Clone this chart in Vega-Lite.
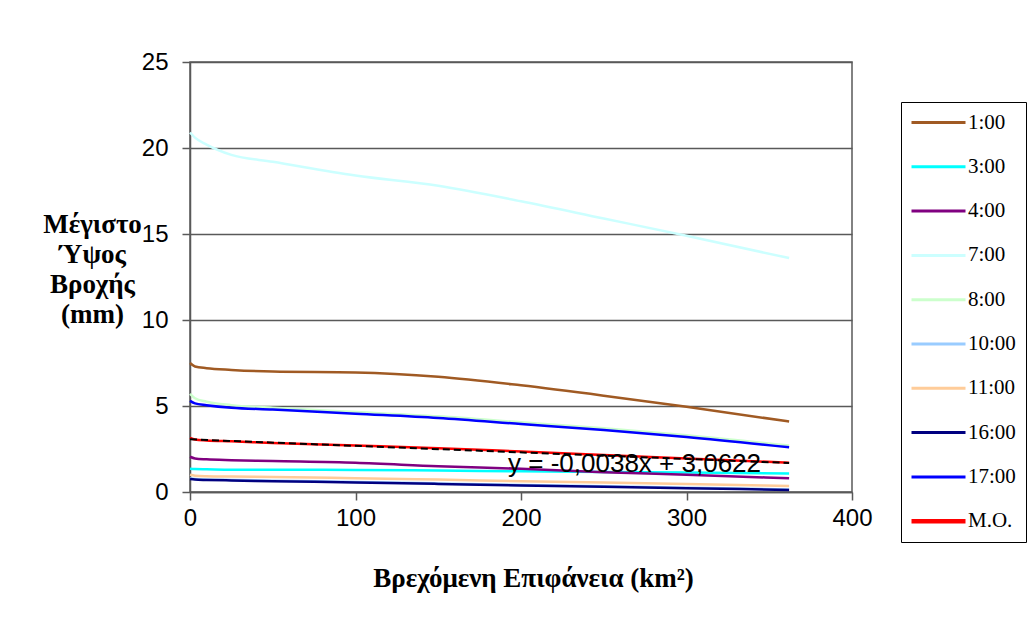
{
  "$schema": "https://vega.github.io/schema/vega-lite/v6.json",
  "width": 662,
  "height": 430,
  "autosize": {"type": "none"},
  "padding": {"left": 190, "top": 62, "right": 178, "bottom": 140},
  "background": "white",
  "config": {
    "view": {"stroke": "#595959", "strokeWidth": 1.5},
    "axis": {"labelFont": "Liberation Sans", "labelFontSize": 24, "labelColor": "black", "titleFont": "Liberation Serif", "titleFontWeight": "bold", "titleFontSize": 27, "titleColor": "black", "domainColor": "#595959", "domainWidth": 1.5, "tickColor": "#595959", "tickWidth": 1.5, "tickSize": 8, "gridColor": "#595959", "gridWidth": 1.5, "labelFlush": false}
  },
  "datasets": {
    "series": [
      {"x": 0, "y": 7.5, "s": "1:00"}, {"x": 3, "y": 7.3, "s": "1:00"}, {"x": 10, "y": 7.2, "s": "1:00"}, {"x": 25, "y": 7.1, "s": "1:00"}, {"x": 50, "y": 7.0, "s": "1:00"}, {"x": 100, "y": 6.95, "s": "1:00"}, {"x": 150, "y": 6.7, "s": "1:00"}, {"x": 200, "y": 6.2, "s": "1:00"}, {"x": 250, "y": 5.6, "s": "1:00"}, {"x": 300, "y": 4.95, "s": "1:00"}, {"x": 362, "y": 4.1, "s": "1:00"},
      {"x": 0, "y": 1.35, "s": "3:00"}, {"x": 3, "y": 1.33, "s": "3:00"}, {"x": 10, "y": 1.32, "s": "3:00"}, {"x": 25, "y": 1.3, "s": "3:00"}, {"x": 50, "y": 1.3, "s": "3:00"}, {"x": 100, "y": 1.28, "s": "3:00"}, {"x": 150, "y": 1.25, "s": "3:00"}, {"x": 200, "y": 1.2, "s": "3:00"}, {"x": 250, "y": 1.17, "s": "3:00"}, {"x": 300, "y": 1.13, "s": "3:00"}, {"x": 362, "y": 1.08, "s": "3:00"},
      {"x": 0, "y": 2.05, "s": "4:00"}, {"x": 3, "y": 1.95, "s": "4:00"}, {"x": 10, "y": 1.9, "s": "4:00"}, {"x": 25, "y": 1.85, "s": "4:00"}, {"x": 50, "y": 1.8, "s": "4:00"}, {"x": 100, "y": 1.7, "s": "4:00"}, {"x": 150, "y": 1.5, "s": "4:00"}, {"x": 200, "y": 1.35, "s": "4:00"}, {"x": 250, "y": 1.15, "s": "4:00"}, {"x": 300, "y": 1.0, "s": "4:00"}, {"x": 362, "y": 0.8, "s": "4:00"},
      {"x": 0, "y": 20.9, "s": "7:00"}, {"x": 3, "y": 20.6, "s": "7:00"}, {"x": 10, "y": 20.2, "s": "7:00"}, {"x": 25, "y": 19.6, "s": "7:00"}, {"x": 50, "y": 19.2, "s": "7:00"}, {"x": 100, "y": 18.4, "s": "7:00"}, {"x": 150, "y": 17.8, "s": "7:00"}, {"x": 200, "y": 16.9, "s": "7:00"}, {"x": 250, "y": 15.9, "s": "7:00"}, {"x": 300, "y": 14.9, "s": "7:00"}, {"x": 362, "y": 13.6, "s": "7:00"},
      {"x": 0, "y": 5.7, "s": "8:00"}, {"x": 3, "y": 5.45, "s": "8:00"}, {"x": 10, "y": 5.25, "s": "8:00"}, {"x": 25, "y": 5.05, "s": "8:00"}, {"x": 50, "y": 4.9, "s": "8:00"}, {"x": 100, "y": 4.65, "s": "8:00"}, {"x": 150, "y": 4.4, "s": "8:00"}, {"x": 200, "y": 4.05, "s": "8:00"}, {"x": 250, "y": 3.7, "s": "8:00"}, {"x": 300, "y": 3.3, "s": "8:00"}, {"x": 362, "y": 2.7, "s": "8:00"},
      {"x": 0, "y": 0.8, "s": "10:00"}, {"x": 3, "y": 0.76, "s": "10:00"}, {"x": 10, "y": 0.73, "s": "10:00"}, {"x": 25, "y": 0.7, "s": "10:00"}, {"x": 50, "y": 0.66, "s": "10:00"}, {"x": 100, "y": 0.58, "s": "10:00"}, {"x": 150, "y": 0.5, "s": "10:00"}, {"x": 200, "y": 0.41, "s": "10:00"}, {"x": 250, "y": 0.33, "s": "10:00"}, {"x": 300, "y": 0.25, "s": "10:00"}, {"x": 362, "y": 0.15, "s": "10:00"},
      {"x": 0, "y": 1.0, "s": "11:00"}, {"x": 3, "y": 0.95, "s": "11:00"}, {"x": 10, "y": 0.92, "s": "11:00"}, {"x": 25, "y": 0.9, "s": "11:00"}, {"x": 50, "y": 0.87, "s": "11:00"}, {"x": 100, "y": 0.8, "s": "11:00"}, {"x": 150, "y": 0.72, "s": "11:00"}, {"x": 200, "y": 0.63, "s": "11:00"}, {"x": 250, "y": 0.55, "s": "11:00"}, {"x": 300, "y": 0.47, "s": "11:00"}, {"x": 362, "y": 0.35, "s": "11:00"},
      {"x": 0, "y": 0.75, "s": "16:00"}, {"x": 3, "y": 0.72, "s": "16:00"}, {"x": 10, "y": 0.7, "s": "16:00"}, {"x": 25, "y": 0.67, "s": "16:00"}, {"x": 50, "y": 0.63, "s": "16:00"}, {"x": 100, "y": 0.55, "s": "16:00"}, {"x": 150, "y": 0.47, "s": "16:00"}, {"x": 200, "y": 0.38, "s": "16:00"}, {"x": 250, "y": 0.3, "s": "16:00"}, {"x": 300, "y": 0.22, "s": "16:00"}, {"x": 362, "y": 0.12, "s": "16:00"},
      {"x": 0, "y": 5.3, "s": "17:00"}, {"x": 3, "y": 5.15, "s": "17:00"}, {"x": 10, "y": 5.05, "s": "17:00"}, {"x": 25, "y": 4.9, "s": "17:00"}, {"x": 50, "y": 4.8, "s": "17:00"}, {"x": 100, "y": 4.55, "s": "17:00"}, {"x": 150, "y": 4.3, "s": "17:00"}, {"x": 200, "y": 3.95, "s": "17:00"}, {"x": 250, "y": 3.6, "s": "17:00"}, {"x": 300, "y": 3.2, "s": "17:00"}, {"x": 362, "y": 2.6, "s": "17:00"},
      {"x": 0, "y": 3.15, "s": "M.O."}, {"x": 3, "y": 3.05, "s": "M.O."}, {"x": 10, "y": 3.0, "s": "M.O."}, {"x": 25, "y": 2.95, "s": "M.O."}, {"x": 50, "y": 2.85, "s": "M.O."}, {"x": 100, "y": 2.7, "s": "M.O."}, {"x": 150, "y": 2.55, "s": "M.O."}, {"x": 200, "y": 2.35, "s": "M.O."}, {"x": 250, "y": 2.15, "s": "M.O."}, {"x": 300, "y": 1.95, "s": "M.O."}, {"x": 362, "y": 1.7, "s": "M.O."}
    ],
    "trend": [{"x": 0, "y": 3.0622}, {"x": 362, "y": 1.6866}],
    "label": [{"x": 268.6, "y": 1.16, "t": "y = -0,0038x + 3,0622"}]
  },
  "layer": [
    {
      "data": {"name": "series"},
      "mark": {"type": "line", "interpolate": "monotone", "strokeWidth": 2.5},
      "encoding": {
        "x": {"field": "x", "type": "quantitative", "scale": {"domain": [0, 400], "nice": false},
          "axis": {"values": [0, 100, 200, 300, 400], "grid": false, "labelPadding": 6, "title": "Βρεχόμενη Επιφάνεια (km²)", "titleX": 343, "titleY": 94, "titleBaseline": "alphabetic", "titleAnchor": null}},
        "y": {"field": "y", "type": "quantitative", "scale": {"domain": [0, 25], "nice": false},
          "axis": {"values": [0, 5, 10, 15, 20, 25], "grid": true, "labelPadding": 14,
            "title": ["Μέγιστο", "Ύψος", "Βροχής", "(mm)"], "titleAngle": 0, "titleAlign": "center", "titleBaseline": "top", "titleX": -98, "titleY": 149, "titleLineHeight": 30}},
        "color": {"field": "s", "type": "nominal",
          "scale": {"domain": ["1:00", "3:00", "4:00", "7:00", "8:00", "10:00", "11:00", "16:00", "17:00", "M.O."],
            "range": ["#A05A23", "#00FFFF", "#800080", "#CCFFFF", "#CCFFCC", "#99CCFF", "#FFCC99", "#000080", "#0000FF", "#FF0000"]},
          "legend": {"title": null, "orient": "none", "legendX": 711, "legendY": 40, "strokeColor": "black", "padding": 10, "rowPadding": 22.3, "labelFont": "Liberation Serif", "labelFontSize": 21, "labelColor": "black", "labelOffset": 36, "symbolType": "M-1,0H4.4", "symbolSize": 400, "symbolStrokeWidth": 3,
            "encode": {"symbols": {"update": {"strokeWidth": {"signal": "datum.value === 'M.O.' ? 4.5 : 3"}}}}}},
        "strokeWidth": {"condition": {"test": "datum.s === 'M.O.'", "value": 3.5}, "value": 2.5}
      }
    },
    {
      "data": {"name": "trend"},
      "mark": {"type": "line", "color": "black", "strokeWidth": 2, "strokeDash": [7, 4]},
      "encoding": {"x": {"field": "x", "type": "quantitative", "scale": {"domain": [0, 400], "nice": false}}, "y": {"field": "y", "type": "quantitative", "scale": {"domain": [0, 25], "nice": false}}}
    },
    {
      "data": {"name": "label"},
      "mark": {"type": "text", "font": "Liberation Sans", "fontSize": 26, "align": "center", "baseline": "alphabetic", "color": "black"},
      "encoding": {"x": {"field": "x", "type": "quantitative", "scale": {"domain": [0, 400], "nice": false}}, "y": {"field": "y", "type": "quantitative", "scale": {"domain": [0, 25], "nice": false}}, "text": {"field": "t"}}
    }
  ]
}
